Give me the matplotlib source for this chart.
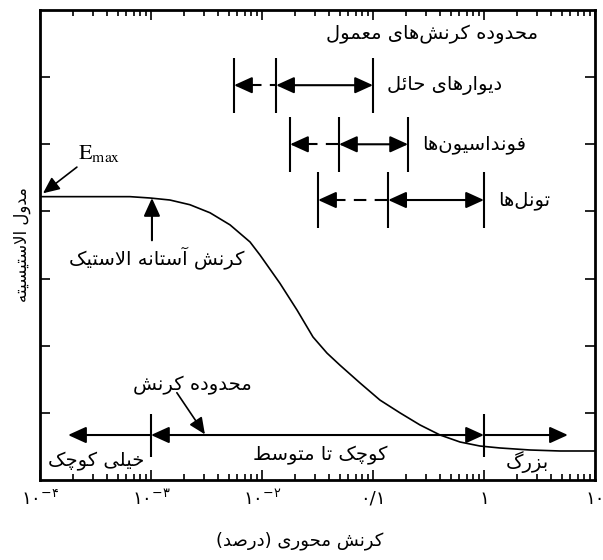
import numpy as np
import matplotlib
matplotlib.use("Agg")
import matplotlib.pyplot as plt

# --- data ------------------------------------------------------------------
# modulus degradation curve: strain (%) -> modulus (arbitrary units)
curve_strain = [1e-4, 6.47e-4, 9.8e-4, 1.48e-3, 2.24e-3, 3.4e-3, 5.15e-3,
                7.8e-3, 9.6e-3, 1.45e-2, 2.07e-2, 2.88e-2, 3.85e-2, 5.04e-2,
                7.64e-2, 0.1156, 0.175, 0.265, 0.402, 0.608, 0.92, 1.39,
                2.59, 4.84, 10.0]
curve_modulus = [4.22, 4.22, 4.20, 4.17, 4.10, 3.98, 3.80, 3.545, 3.35, 2.93,
                 2.53, 2.13, 1.89, 1.71, 1.445, 1.19, 1.00, 0.82, 0.67, 0.566,
                 0.506, 0.477, 0.447, 0.432, 0.432]

# typical strain ranges (dashed from first to second, solid second to third)
walls_range = [5.6e-3, 1.34e-2, 0.1]
foundations_range = [1.79e-2, 4.94e-2, 0.207]
tunnels_range = [3.2e-2, 0.137, 1.0]
row_levels = [5.88, 5.0, 4.17]

# strain classes along the bottom
class_bounds = [1.79e-4, 1e-3, 1.0, 5.7]
class_level = 0.67

x_ticks = [1e-4, 1e-3, 1e-2, 0.1, 1, 10]
x_tick_labels = [r"$\mathregular{۱۰^{-۴}}$", r"$\mathregular{۱۰^{-۳}}$",
                 r"$\mathregular{۱۰^{-۲}}$", "۰/۱", "۱", "۱۰"]
y_ticks = [1, 2, 3, 4, 5, 6]

# --- minimal persian shaping (matplotlib has no RTL/joining support) -----
FORMS = {
    'ا': ('\uFE8D', '\uFE8E', None, None),
    'آ': ('\uFE81', '\uFE82', None, None),
    'د': ('\uFEA9', '\uFEAA', None, None),
    'ر': ('\uFEAD', '\uFEAE', None, None),
    'ز': ('\uFEAF', '\uFEB0', None, None),
    'و': ('\uFEED', '\uFEEE', None, None),
    'ب': ('\uFE8F', '\uFE90', '\uFE91', '\uFE92'),
    'ت': ('\uFE95', '\uFE96', '\uFE97', '\uFE98'),
    'ح': ('\uFEA1', '\uFEA2', '\uFEA3', '\uFEA4'),
    'خ': ('\uFEA5', '\uFEA6', '\uFEA7', '\uFEA8'),
    'س': ('\uFEB1', '\uFEB2', '\uFEB3', '\uFEB4'),
    'ش': ('\uFEB5', '\uFEB6', '\uFEB7', '\uFEB8'),
    'ص': ('\uFEB9', '\uFEBA', '\uFEBB', '\uFEBC'),
    'ط': ('\uFEC1', '\uFEC2', '\uFEC3', '\uFEC4'),
    'ع': ('\uFEC9', '\uFECA', '\uFECB', '\uFECC'),
    'ف': ('\uFED1', '\uFED2', '\uFED3', '\uFED4'),
    'ل': ('\uFEDD', '\uFEDE', '\uFEDF', '\uFEE0'),
    'م': ('\uFEE1', '\uFEE2', '\uFEE3', '\uFEE4'),
    'ن': ('\uFEE5', '\uFEE6', '\uFEE7', '\uFEE8'),
    'ه': ('\uFEE9', '\uFEEA', '\uFEEB', '\uFEEC'),
    'ئ': ('\uFE89', '\uFE8A', '\uFE8B', '\uFE8C'),
    'ی': ('\uFBFC', '\uFBFD', '\uFBFE', '\uFBFF'),
    'ک': ('\uFB8E', '\uFB8F', '\uFB90', '\uFB91'),
    'گ': ('\uFB92', '\uFB93', '\uFB94', '\uFB95'),
    'چ': ('\uFB7A', '\uFB7B', '\uFB7C', '\uFB7D'),
}
LAM_ALEF = {'ا': ('\uFEFB', '\uFEFC'), 'آ': ('\uFEF5', '\uFEF6')}


def fa(text):
    """Shape persian text into presentation forms in visual order."""
    def dual(c):
        return c in FORMS and FORMS[c][2] is not None

    out = []
    i = 0
    n = len(text)
    while i < n:
        c = text[i]
        if c not in FORMS:
            out.append(c)
            i += 1
            continue
        conn_prev = i > 0 and dual(text[i - 1])
        if c == 'ل' and i + 1 < n and text[i + 1] in LAM_ALEF:
            out.append(LAM_ALEF[text[i + 1]][1 if conn_prev else 0])
            i += 2
            continue
        conn_next = dual(c) and i + 1 < n and text[i + 1] in FORMS
        iso, fin, ini, med = FORMS[c]
        if conn_prev and conn_next:
            out.append(med)
        elif conn_prev:
            out.append(fin)
        elif conn_next:
            out.append(ini)
        else:
            out.append(iso)
        i += 1
    s = ''.join(ch for ch in out if ch != '\u200c')[::-1]
    return s.translate(str.maketrans('()', ')('))


plt.rcParams['font.family'] = ['DejaVu Sans']
plt.rcParams['mathtext.fontset'] = 'stix'

LW = 1.5
FS = 14
HEAD = dict(arrowstyle='-|>,head_length=1.1,head_width=0.5',
            mutation_scale=10, color='black', lw=LW, shrinkA=0, shrinkB=0)
BOTH = dict(HEAD, arrowstyle='<|-|>,head_length=1.1,head_width=0.5')
THIN = dict(HEAD, arrowstyle='-|>,head_length=1.0,head_width=0.45', lw=1.2)
HEAD_DEC = 0.135   # arrow head length in decades


def arrow(ax, x0, x1, y, style):
    ax.annotate('', xy=(x1, y), xytext=(x0, y), arrowprops=style)


def dashed_left(ax, x_tip, x_end, y):
    base = x_tip * 10 ** HEAD_DEC
    arrow(ax, base, x_tip, y, HEAD)
    ax.plot([base, x_end], [y, y], color='black', lw=LW, dashes=(6, 4))


def range_row(ax, rng, y, half=0.41):
    ax.vlines(rng, y - half, y + half, color='black', lw=LW)
    dashed_left(ax, rng[0], rng[1], y)
    arrow(ax, rng[1], rng[2], y, BOTH)


fig = plt.figure(figsize=(6.03, 5.6), dpi=100)
ax = fig.add_axes([40 / 603, 80 / 560, 555 / 603, 470 / 560])

ax.plot(curve_strain, curve_modulus, color='black', lw=1.2)

ax.set_xscale('log')
ax.set_xlim(1e-4, 10)
ax.set_ylim(0, 7)
ax.set_xticks(x_ticks)
ax.set_xticklabels(x_tick_labels, fontsize=13)
ax.set_yticks(y_ticks)
ax.set_yticklabels([])
ax.minorticks_on()
ax.yaxis.set_minor_locator(matplotlib.ticker.NullLocator())
ax.xaxis.set_minor_formatter(matplotlib.ticker.NullFormatter())
ax.tick_params(which='both', direction='in', top=True, right=True, width=1.2)
ax.tick_params(which='major', length=7.5, pad=7)
ax.tick_params(which='minor', length=4)
for sp in ax.spines.values():
    sp.set_linewidth(2)

# typical strain ranges
ax.text(0.34, 6.63, fa('محدوده کرنش\u200cهای معمول'), ha='center', va='center', fontsize=FS)
for rng, y, label in zip([walls_range, foundations_range, tunnels_range], row_levels,
                         ['دیوارهای حائل', 'فونداسیون\u200cها', 'تونل\u200cها']):
    range_row(ax, rng, y)
    ax.text(rng[2] * 10 ** 0.13, y, fa(label), ha='left', va='center', fontsize=FS)

# Emax and elastic threshold
ax.annotate('', xy=(1.064e-4, 4.27), xytext=(2.15e-4, 4.66), arrowprops=THIN)
ax.text(2.2e-4, 4.87, r'$\mathrm{E}_{\mathrm{max}}$', ha='left', va='center', fontsize=16)
ax.annotate('', xy=(1.02e-3, 4.2), xytext=(1.02e-3, 3.57), arrowprops=HEAD)
ax.text(1.13e-3, 3.31, fa('کرنش آستانه الاستیک'), ha='center', va='center', fontsize=FS)

# strain classes
ax.vlines(class_bounds[1:3], class_level - 0.32, class_level + 0.32, color='black', lw=LW)
arrow(ax, class_bounds[1], class_bounds[0], class_level, HEAD)
arrow(ax, class_bounds[1], class_bounds[2], class_level, BOTH)
arrow(ax, class_bounds[2], class_bounds[3], class_level, HEAD)
ax.text(3.2e-4, 0.27, fa('خیلی کوچک'), ha='center', va='center', fontsize=FS)
ax.text(3.33e-2, 0.37, fa('کوچک تا متوسط'), ha='center', va='center', fontsize=FS)
ax.text(2.44, 0.27, fa('بزرگ'), ha='center', va='center', fontsize=FS)
ax.text(2.34e-3, 1.415, fa('محدوده کرنش'), ha='center', va='center', fontsize=FS)
ax.annotate('', xy=(3.06e-3, 0.68), xytext=(1.71e-3, 1.3), arrowprops=THIN)

# axis titles
ax.text(-0.032, 0.5, fa('مدول الاستیسیته'), rotation=90, ha='center', va='center',
        fontsize=12, transform=ax.transAxes)
fig.text(300 / 603, 1 - 541 / 560, fa('کرنش محوری (درصد)'), ha='center', va='center',
         fontsize=13)

fig.savefig('out.png', dpi=100)
